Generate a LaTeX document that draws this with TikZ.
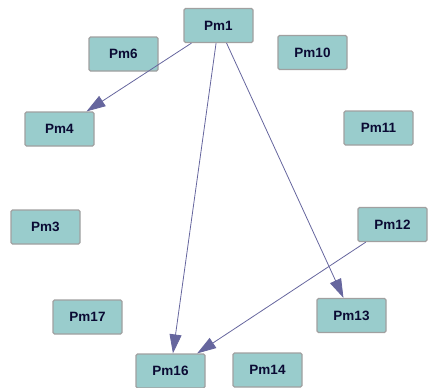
\documentclass[tikz,border=0pt]{standalone}
\usepackage{fontspec}
\setmainfont{Liberation Sans}
\usetikzlibrary{arrows.meta}
\definecolor{boxfill}{HTML}{99CCCC}
\definecolor{boxline}{HTML}{A0A0A0}
\definecolor{edgecol}{HTML}{66669E}
\definecolor{txtcol}{HTML}{0A0A33}
\tikzset{
  pm/.style={draw=boxline, fill=boxfill, line width=1.2pt, rounded corners=1.5pt,
    minimum width=69pt, minimum height=34pt, inner sep=0pt,
    font=\fontsize{13.5}{15}\selectfont\bfseries, text=txtcol},
  link/.style={draw=edgecol, line width=0.8pt, -{Triangle[length=19pt,width=12pt]}}
}
\begin{document}
\begin{tikzpicture}[x=1pt,y=-1pt]
\useasboundingbox (0,0) rectangle (429,388);
\node[pm] (pm1)  at (218.5,25.5) {Pm1};
\node[pm] (pm6)  at (123.5,54) {Pm6};
\node[pm] (pm10) at (312.5,52.5) {Pm10};
\node[pm] (pm4)  at (59.5,129) {Pm4};
\node[pm] (pm11) at (378.5,128) {Pm11};
\node[pm] (pm3)  at (45.5,227) {Pm3};
\node[pm] (pm12) at (392.5,224.5) {Pm12};
\node[pm] (pm17) at (87.5,317) {Pm17};
\node[pm] (pm13) at (351.5,315.5) {Pm13};
\node[pm] (pm16) at (170.5,371) {Pm16};
\node[pm] (pm14) at (267.5,370) {Pm14};
\draw[link] (pm1) -- (pm4);
\draw[link] (pm1) -- (pm16);
\draw[link] (pm1) -- (pm13);
\draw[link] (pm12) -- (pm16);
\end{tikzpicture}
\end{document}
